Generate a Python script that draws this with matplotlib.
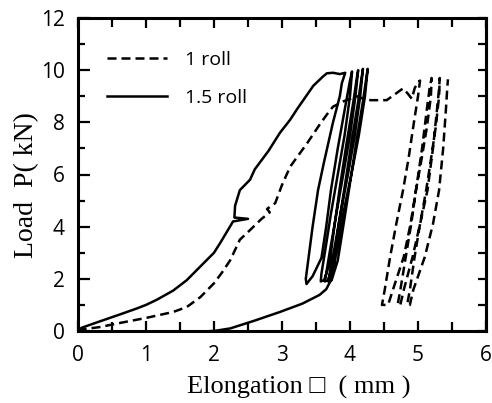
import matplotlib
matplotlib.use("Agg")
import matplotlib.pyplot as plt
from matplotlib.ticker import MultipleLocator

# ---- data ----
roll1_x = [0.0, 0.03, 0.32, 0.6, 1.0, 1.4, 1.6, 1.8, 2.0, 2.12, 2.24, 2.38, 2.53, 2.7, 2.82, 2.78, 2.9, 3.0,
           3.12, 3.37, 3.55, 3.66, 3.75, 3.9, 4.1, 4.2, 4.3, 4.54, 4.78, 4.85, 4.91, 4.95, 5.0, 5.03,
           5.0, 4.94, 4.86, 4.78, 4.68, 4.59, 4.51, 4.47, 4.56,
           4.63, 4.79, 4.89, 4.97, 5.06, 5.13, 5.17, 5.2,
           5.19, 5.13, 5.04, 4.97, 4.9, 4.82, 4.74, 4.70, 4.74,
           4.79, 4.92, 5.03, 5.14, 5.22, 5.28, 5.31, 5.32,
           5.31, 5.26, 5.18, 5.12, 5.03, 4.95, 4.88, 4.84, 4.88,
           4.93, 5.1, 5.22, 5.31, 5.37, 5.41, 5.43, 5.44]
roll1_y = [0.0, 0.05, 0.15, 0.3, 0.5, 0.73, 0.92, 1.3, 1.83, 2.25, 2.72, 3.5, 3.87, 4.3, 4.55, 4.68, 4.9, 5.6,
           6.3, 7.2, 7.9, 8.3, 8.6, 8.8, 9.0, 8.9, 8.85, 8.85, 9.3, 9.1, 8.9, 9.3, 9.55, 9.6,
           9.0, 8.0, 6.6, 5.4, 4.1, 2.84, 1.57, 1.0, 1.0,
           1.57, 2.84, 4.1, 5.4, 7.0, 8.5, 9.3, 9.7,
           9.0, 7.8, 6.4, 5.4, 4.1, 2.84, 1.57, 1.0, 1.0,
           1.57, 2.84, 4.1, 5.4, 7.0, 8.5, 9.3, 9.7,
           9.0, 7.8, 6.4, 5.4, 4.1, 2.84, 1.57, 1.0, 1.0,
           1.57, 2.84, 4.1, 5.4, 7.0, 8.47, 9.3, 9.65]

roll15_x = [0.0, 0.05, 0.3, 0.6, 0.85, 1.0, 1.16, 1.4, 1.6, 1.79, 2.0, 2.09, 2.2, 2.28, 2.5, 2.3,
            2.31, 2.38, 2.53, 2.6, 2.8, 2.97, 3.12, 3.22, 3.46, 3.6, 3.66, 3.75, 3.85, 3.93,
            3.88, 3.85, 3.75, 3.62, 3.53, 3.45, 3.39, 3.35, 3.36,
            3.45, 3.58, 3.65, 3.72, 3.82, 3.93, 4.0, 4.03,
            4.0, 3.92, 3.82, 3.72, 3.63, 3.58, 3.57,
            3.62, 3.7, 3.77, 3.85, 3.95, 4.05, 4.1, 4.12,
            4.08, 4.0, 3.9, 3.8, 3.7, 3.65, 3.63,
            3.68, 3.76, 3.83, 3.92, 4.02, 4.12, 4.17, 4.19,
            4.15, 4.07, 3.97, 3.86, 3.76, 3.7, 3.68,
            3.73, 3.82, 3.9, 3.99, 4.09, 4.19, 4.24, 4.26,
            4.22, 4.13, 4.02, 3.9, 3.8, 3.74, 3.72,
            3.65, 3.55, 3.3, 2.97, 2.6, 2.24, 2.0, 1.95]
roll15_y = [0.0, 0.12, 0.35, 0.62, 0.85, 1.0, 1.2, 1.55, 1.95, 2.45, 3.0, 3.37, 3.85, 4.2, 4.3, 4.35,
            4.8, 5.4, 5.8, 6.2, 6.9, 7.6, 8.1, 8.5, 9.4, 9.75, 9.88, 9.9, 9.85, 9.9,
            9.5, 9.0, 8.0, 6.5, 5.4, 4.0, 2.8, 2.0, 1.8,
            2.1, 2.8, 4.0, 5.4, 7.0, 8.6, 9.6, 9.95,
            9.0, 7.5, 6.0, 4.5, 3.0, 2.2, 1.9,
            1.95, 2.6, 4.0, 5.5, 7.2, 8.8, 9.7, 10.0,
            9.0, 7.5, 6.0, 4.5, 3.0, 2.2, 1.9,
            1.95, 2.6, 4.0, 5.5, 7.2, 8.8, 9.7, 10.05,
            9.0, 7.5, 6.0, 4.5, 3.0, 2.2, 1.9,
            1.95, 2.7, 4.0, 5.5, 7.2, 8.8, 9.7, 10.05,
            9.0, 7.5, 6.0, 4.5, 3.0, 2.2, 1.95,
            1.6, 1.38, 1.05, 0.73, 0.4, 0.1, 0.0, 0.0]

labels = ["1 roll", "1.5 roll"]
xlabel = "Elongation \u25a1  ( mm )"
ylabel = "Load  P( kN)"

# ---- figure ----
fig = plt.figure(figsize=(4.92, 4.03), dpi=100)
ax = fig.add_axes([78/492, 1 - 331/403, (486-78)/492, (331-18)/403])

ax.plot(roll1_x, roll1_y, color="black", lw=1.8, linestyle=(0, (3.6, 2.0)), label=labels[0])
ax.plot(roll15_x, roll15_y, color="black", lw=1.8, linestyle="-", label=labels[1])

ax.set_xlim(0, 6)
ax.set_ylim(0, 12)
ax.xaxis.set_major_locator(MultipleLocator(1))
ax.xaxis.set_minor_locator(MultipleLocator(0.5))
ax.yaxis.set_major_locator(MultipleLocator(2))
ax.yaxis.set_minor_locator(MultipleLocator(1))

for s in ax.spines.values():
    s.set_linewidth(2.2)

tickfont = "Open Sans"
ax.tick_params(which="major", direction="in", length=7.5, width=1.6, top=True, right=False,
               labelsize=15)
ax.tick_params(which="minor", direction="in", length=6.5, width=1.6, top=True, right=False)
ax.tick_params(axis="x", which="major", pad=10)
ax.tick_params(axis="y", which="major", length=8.5, pad=9.5)
ax.tick_params(axis="y", which="minor", length=5)
for lab in ax.get_xticklabels() + ax.get_yticklabels():
    lab.set_family(tickfont)

sec = ax.secondary_yaxis("right")
sec.yaxis.set_major_locator(MultipleLocator(1))
sec.tick_params(direction="in", length=6, width=1.6, labelright=False)
sec.spines["right"].set_linewidth(2.2)

ax.set_xlabel(xlabel, fontsize=19, family=["Liberation Serif", "DejaVu Sans"])
ax.xaxis.set_label_coords(0.54, -0.2, transform=ax.transAxes)
ax.xaxis.label.set_va("baseline")
ax.set_ylabel(ylabel, fontsize=20, family=["Liberation Serif", "DejaVu Sans"])
ax.yaxis.set_label_coords(-0.095, 0.465, transform=ax.transAxes)

leg = ax.legend(loc="upper left", bbox_to_anchor=(0.07, 0.895), frameon=False,
                prop={"family": tickfont, "size": 14}, handlelength=3.1,
                handletextpad=0.95, labelspacing=1.05, borderpad=0, borderaxespad=0)

fig.savefig("out.png", dpi=100)
